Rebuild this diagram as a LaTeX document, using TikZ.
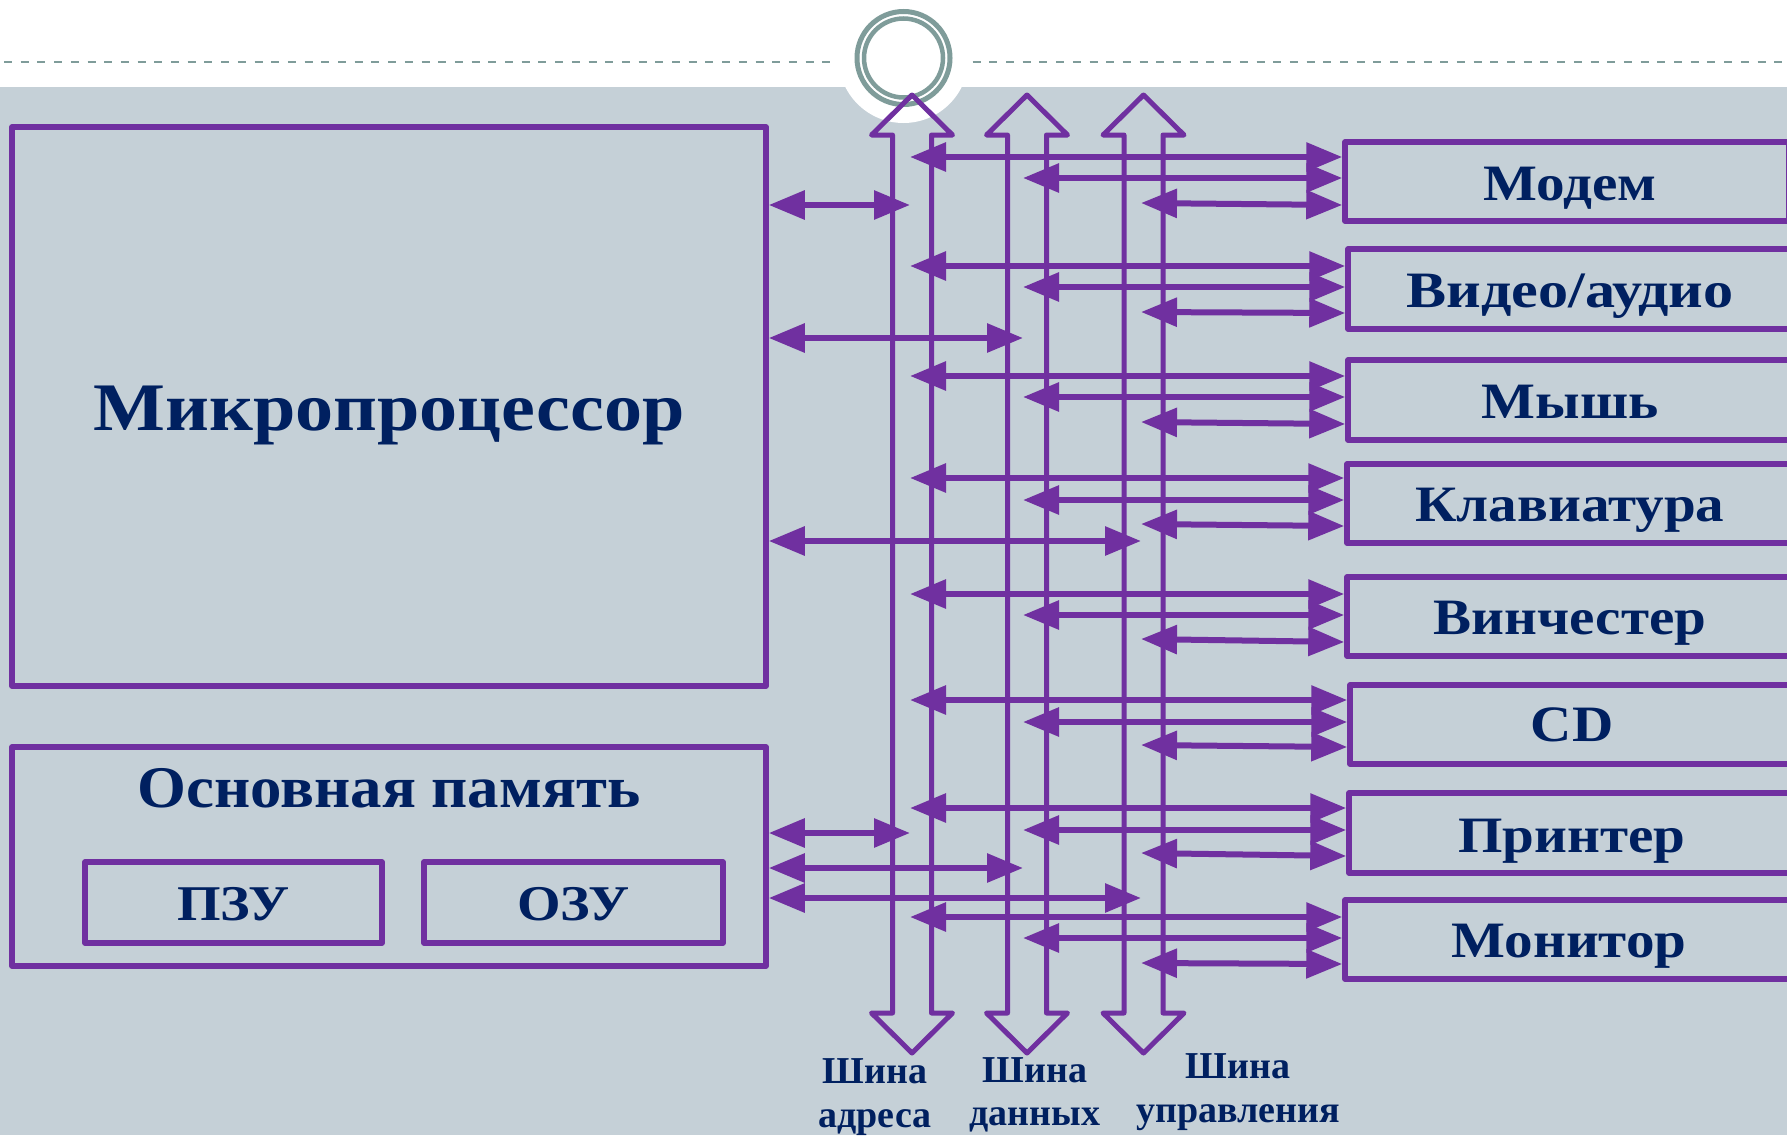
\documentclass[tikz,border=0pt]{standalone}
\usepackage{fontspec}
\setmainfont{Liberation Serif}
\newfontfamily\tnr[FakeStretch=1.12]{Liberation Serif}
\newfontfamily\tnrb[FakeStretch=1.065]{Liberation Serif}
\newfontfamily\tnrv[FakeStretch=1.18]{Liberation Serif}
\newfontfamily\tnrn{Liberation Serif}
\usetikzlibrary{arrows.meta}
\definecolor{bgg}{HTML}{C5D0D7}
\definecolor{pur}{HTML}{7030A0}
\definecolor{navy}{HTML}{002060}
\definecolor{tealg}{HTML}{7F9C9A}
\newcommand\myfs[1]{\fontsize{#1}{#1}\selectfont}
\tikzset{
  box/.style={draw=pur, line width=5.5pt, rectangle, inner sep=0pt, line join=round},
  lbl/.style={text=navy, inner sep=0pt, anchor=base},
  bus/.style={draw=pur, line width=5pt, line join=round},
  conn/.style={draw=pur, line width=6pt, {Triangle[length=36pt,width=28pt]}-{Triangle[length=36pt,width=28pt]}},
}
\begin{document}
\begin{tikzpicture}[x=1pt,y=-1pt]
\useasboundingbox (0,0) rectangle (1787,1135);
% background
\fill[white] (0,0) rectangle (1787,1135);
\fill[bgg] (0,87) rectangle (1787,1135);
\draw[tealg, line width=2.5pt, dash pattern=on 8pt off 8.7pt] (4,62) -- (1787,62);
\fill[white] (903.5,58) circle (65);
\draw[tealg, line width=5pt] (903.5,58) circle (46.5);
\draw[tealg, line width=4.5pt] (903.5,58) circle (39.5);

% left boxes
\node[box, minimum width=754pt, minimum height=559pt] (mp) at (389,406.5) {};
\node[box, minimum width=754pt, minimum height=219pt] (mem) at (389,856.5) {};
\node[box, minimum width=297pt, minimum height=81pt] (rom) at (233.5,902.5) {};
\node[box, minimum width=299pt, minimum height=81pt] (ram) at (573.5,902.5) {};

% device boxes
\node[box, minimum width=443.5pt, minimum height=79pt] (mo) at (1566.75,181.5) {};
\node[box, minimum width=452pt, minimum height=80pt] (vi) at (1574,289) {};
\node[box, minimum width=452pt, minimum height=80pt] (mu) at (1574,400) {};
\node[box, minimum width=453pt, minimum height=79pt] (kl) at (1573.5,503.5) {};
\node[box, minimum width=453pt, minimum height=79pt] (vn) at (1573.5,616.5) {};
\node[box, minimum width=450pt, minimum height=79pt] (cd) at (1575,724.5) {};
\node[box, minimum width=451pt, minimum height=80pt] (pr) at (1574.5,833) {};
\node[box, minimum width=455pt, minimum height=79pt] (mn) at (1572.5,939.5) {};

% buses
\foreach \c in {912,1027,1143.5}{
  \draw[bus] (\c,95) -- ({\c+40.5},135) -- ({\c+19.5},135) -- ({\c+19.5},1013)
    -- ({\c+40.5},1013) -- (\c,1053) -- ({\c-40.5},1013) -- ({\c-19.5},1013)
    -- ({\c-19.5},135) -- ({\c-40.5},135) -- cycle;
}
\coordinate (A) at (910,0);
\coordinate (D) at (1023,0);
\coordinate (C) at (1141,0);

% processor and memory connectors
\draw[conn] (mp.east |- 0,205) -- (A |- 0,205);
\draw[conn] (mp.east |- 0,338) -- (D |- 0,338);
\draw[conn] (mp.east |- 0,541) -- (C |- 0,541);
\draw[conn] (mem.east |- 0,833) -- (A |- 0,833);
\draw[conn] (mem.east |- 0,868) -- (D |- 0,868);
\draw[conn] (mem.east |- 0,898) -- (C |- 0,898);

% device connectors
\foreach \b/\ya/\yd/\ycl/\ycr in {mo/157/178/203/205, vi/266/287/312/313, mu/376/397/422/424,
    kl/478/500/524/526, vn/594/615/639/642, cd/700/722/745/747, pr/808/830/853/856, mn/917/938/963/964}{
  \draw[conn] (A |- 0,\ya) -- (\b.west |- 0,\ya);
  \draw[conn] (D |- 0,\yd) -- (\b.west |- 0,\yd);
  \draw[conn] (C |- 0,\ycl) -- (\b.west |- 0,\ycr);
}

% labels
\node[lbl, font=\tnr\bfseries\myfs{68}] (lmp) at (389,430) {Микропроцессор};
\node[lbl, font=\tnrb\bfseries\myfs{59}] (lmem) at (389,807) {Основная память};
\node[lbl, font=\tnr\bfseries\myfs{50}] (lrom) at (233.5,920) {ПЗУ};
\node[lbl, font=\tnr\bfseries\myfs{50}] (lram) at (573.5,920) {ОЗУ};

\node[lbl, font=\tnr\bfseries\myfs{51}] (lmo) at (1570,200) {Модем};
\node[lbl, font=\tnrv\bfseries\myfs{51}] (lvi) at (1570,307) {Видео/аудио};
\node[lbl, font=\tnr\bfseries\myfs{51}] (lmu) at (1570,418) {Мышь};
\node[lbl, font=\tnr\bfseries\myfs{51}] (lkl) at (1570,521) {Клавиатура};
\node[lbl, font=\tnr\bfseries\myfs{51}] (lvn) at (1570,634) {Винчестер};
\node[lbl, font=\tnr\bfseries\myfs{51}] (lcd) at (1572,741) {CD};
\node[lbl, font=\tnr\bfseries\myfs{51}] (lpr) at (1572,852) {Принтер};
\node[lbl, font=\tnr\bfseries\myfs{51}] (lmn) at (1569,957) {Монитор};

\node[lbl, font=\tnrn\bfseries\myfs{38}] (ba1) at (875,1083) {Шина};
\node[lbl, font=\tnrn\bfseries\myfs{38}] (ba2) at (875,1127) {адреса};
\node[lbl, font=\tnrn\bfseries\myfs{38}] (bd1) at (1035,1082) {Шина};
\node[lbl, font=\tnrn\bfseries\myfs{38}] (bd2) at (1035,1125) {данных};
\node[lbl, font=\tnrn\bfseries\myfs{38}] (bc1) at (1238,1078) {Шина};
\node[lbl, font=\tnrn\bfseries\myfs{38}] (bc2) at (1238,1122) {управления};
\end{tikzpicture}
\end{document}
